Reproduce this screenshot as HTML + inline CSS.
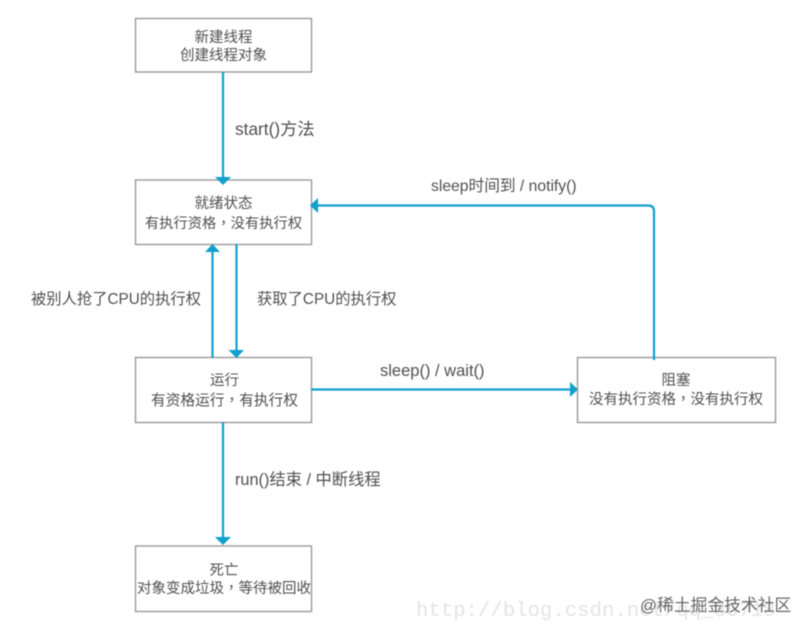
<!DOCTYPE html>
<html>
<head>
<meta charset="utf-8">
<style>
html,body{margin:0;padding:0;background:#fff;width:810px;height:634px;overflow:hidden}
svg{display:block;filter:blur(0.45px)}
text{font-family:"Liberation Sans","Noto Sans CJK SC",sans-serif;fill:#505050}
.n{font-size:14.5px;text-anchor:middle}
.l{font-size:16.3px}
.m{font-size:15.3px}
.p{font-family:"Noto Sans CJK TC",sans-serif}
.box{fill:#fff;stroke:#9a9a9a;stroke-width:1.4}
.c{fill:none;stroke:#0fa0cc;stroke-width:2.2}
.a{fill:#0fa0cc}
</style>
</head>
<body>
<svg width="810" height="634" viewBox="0 0 810 634" xmlns="http://www.w3.org/2000/svg">
<text x="416" y="616" font-size="20.5" style="font-family:'Liberation Mono',monospace;fill:#e4e4e4;letter-spacing:0.1px">http://blog.csdn.net/qq_36718</text>

<rect class="box" x="135.5" y="18.5" width="176" height="53.5"/>
<rect class="box" x="135.5" y="180" width="176" height="64.5"/>
<rect class="box" x="135.5" y="357.5" width="176" height="65"/>
<rect class="box" x="577.5" y="357.5" width="198" height="65"/>
<rect class="box" x="135.5" y="546" width="176" height="65.5"/>

<path class="c" d="M223 72V178"/>
<polygon class="a" points="215,177 231,177 223,185"/>
<path class="c" d="M212.5 358V250"/>
<polygon class="a" points="205,252 220,252 212.5,244"/>
<path class="c" d="M236.5 244V352"/>
<polygon class="a" points="228.5,350 244,350 236.5,358"/>
<path class="c" d="M311 389.5H572"/>
<polygon class="a" points="570,382 570,397 578,389.5"/>
<path class="c" d="M654 360V211Q654 205.5 648 205.5H316"/>
<polygon class="a" points="318,198 318,213 310,205.5"/>
<path class="c" d="M223 422V539"/>
<polygon class="a" points="215,537 231,537 223,545"/>

<text class="n" x="223.5" y="42">新建线程</text>
<text class="n" x="223.5" y="60">创建线程对象</text>
<text class="n" x="223.5" y="208">就绪状态</text>
<text class="n" x="223.5" y="228" style="font-size:14.3px">有执行资格<tspan class="p">，</tspan>没有执行权</text>
<text class="n" x="224.5" y="385">运行</text>
<text class="n" x="224.5" y="405" style="font-size:14.7px">有资格运行<tspan class="p">，</tspan>有执行权</text>
<text class="n" x="676" y="385">阻塞</text>
<text class="n" x="676" y="404">没有执行资格<tspan class="p">，</tspan>没有执行权</text>
<text class="n" x="224" y="575">死亡</text>
<text class="n" x="224" y="593">对象变成垃圾<tspan class="p">，</tspan>等待被回收</text>

<text class="l" x="235" y="135" style="font-size:17.3px">start()方法</text>
<text class="l" x="431" y="191" style="font-size:15.7px">sleep时间到 / notify()</text>
<text class="m" x="31" y="304">被别人抢了CPU的执行权</text>
<text class="m" x="257" y="304">获取了CPU的执行权</text>
<text class="l" x="380" y="376" style="font-size:16.5px">sleep() / wait()</text>
<text class="l" x="235" y="485">run()结束 / 中断线程</text>

<text x="640" y="611" font-size="16.8" style="fill:#666">@稀土掘金技术社区</text>
</svg>
</body>
</html>
